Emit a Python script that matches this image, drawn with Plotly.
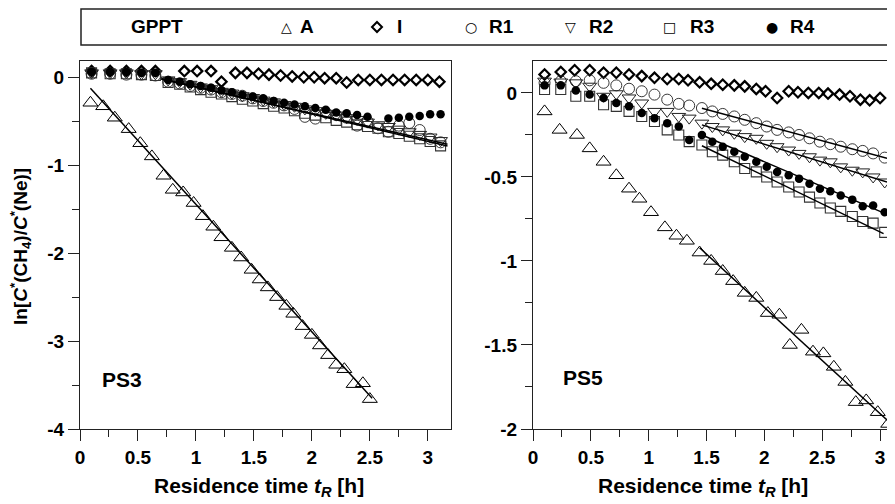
import plotly.graph_objects as go

# ---------------- PS3 (left panel) ----------------
t_A3 = [0.09, 0.20, 0.30, 0.42, 0.52, 0.62, 0.72, 0.80, 0.89, 0.98, 1.06, 1.15, 1.22, 1.31, 1.39,
        1.48, 1.55, 1.62, 1.70, 1.78, 1.84, 1.92, 2.00, 2.07, 2.14, 2.21, 2.28, 2.36, 2.44, 2.50]
A3 = [-0.29, -0.33, -0.46, -0.59, -0.75, -0.90, -1.12, -1.28, -1.31, -1.43, -1.58, -1.70, -1.82, -1.94, -2.05,
      -2.19, -2.30, -2.39, -2.50, -2.60, -2.69, -2.83, -2.93, -3.05, -3.16, -3.27, -3.32, -3.49, -3.48, -3.66]

t_I3 = [0.10, 0.26, 0.40, 0.53, 0.65, 0.90, 1.01, 1.13, 1.22, 1.34, 1.44, 1.54, 1.63, 1.73,
        1.83, 1.93, 2.02, 2.11, 2.21, 2.30, 2.40, 2.50, 2.60, 2.70, 2.80, 2.90, 3.00, 3.10]
I3 = [0.07, 0.07, 0.07, 0.07, 0.07, 0.07, 0.07, 0.07, -0.05, 0.05, 0.05, 0.04, 0.03, 0.02,
      0.01, 0.00, 0.00, -0.01, -0.01, -0.06, -0.03, -0.03, -0.03, -0.03, -0.03, -0.03, -0.03, -0.05]

t_R3 = [0.10, 0.26, 0.40, 0.53, 0.65, 0.76, 0.86, 0.95, 1.04, 1.13, 1.22, 1.31, 1.40, 1.49, 1.58, 1.67,
        1.76, 1.85, 1.94, 2.03, 2.12, 2.21, 2.30, 2.39, 2.48, 2.57, 2.66, 2.75, 2.84, 2.93, 3.02, 3.11]
R1_3 = [0.04, 0.04, 0.03, 0.03, 0.02, -0.05, -0.07, -0.10, -0.12, -0.14, -0.17, -0.19, -0.21, -0.24, -0.27, -0.29,
        -0.32, -0.36, -0.45, -0.47, -0.40, -0.43, -0.46, -0.55, -0.50, -0.58, -0.62, -0.55, -0.52, -0.60, -0.70, -0.74]
R2_3 = [0.05, 0.05, 0.05, 0.04, 0.04, -0.03, -0.05, -0.08, -0.11, -0.13, -0.16, -0.18, -0.21, -0.23, -0.26, -0.28,
        -0.31, -0.33, -0.36, -0.38, -0.41, -0.43, -0.46, -0.48, -0.51, -0.54, -0.56, -0.59, -0.62, -0.65, -0.68, -0.72]
R3_3 = [0.05, 0.04, 0.04, 0.03, 0.02, -0.06, -0.08, -0.11, -0.14, -0.17, -0.19, -0.22, -0.25, -0.27, -0.30, -0.33,
        -0.35, -0.38, -0.41, -0.43, -0.46, -0.49, -0.51, -0.54, -0.56, -0.58, -0.62, -0.64, -0.67, -0.70, -0.73, -0.78]
R4_3 = [0.06, 0.06, 0.06, 0.05, 0.05, -0.03, -0.05, -0.08, -0.10, -0.12, -0.15, -0.17, -0.20, -0.22, -0.24, -0.27,
        -0.29, -0.31, -0.33, -0.35, -0.37, -0.40, -0.41, -0.43, -0.45, None, -0.47, -0.46, -0.45, -0.44, -0.42, -0.42]

# fitted lines: (slope, intercept, t start, t end)
fit3_A = (-1.45, 0.005, 0.09, 2.52)
fit3_R12 = (-0.30, 0.19, 0.70, 3.17)
fit3_R3 = (-0.31, 0.20, 0.70, 3.17)

# ---------------- PS5 (right panel) ----------------
t_A5 = [0.10, 0.23, 0.38, 0.49, 0.61, 0.72, 0.83, 0.92, 1.02, 1.14, 1.24, 1.33, 1.44, 1.54, 1.64,
        1.73, 1.83, 1.93, 2.03, 2.13, 2.22, 2.32, 2.42, 2.51, 2.60, 2.70, 2.79, 2.88, 2.98, 3.07]
A5 = [-0.11, -0.22, -0.25, -0.33, -0.41, -0.49, -0.57, -0.63, -0.71, -0.80, -0.85, -0.88, -0.95, -1.00, -1.06,
      -1.12, -1.19, -1.22, -1.31, -1.32, -1.50, -1.41, -1.54, -1.55, -1.63, -1.72, -1.84, -1.83, -1.90, -1.97]

t_I5 = [0.10, 0.24, 0.36, 0.49, 0.61, 0.72, 0.83, 0.94, 1.05, 1.16, 1.26, 1.34, 1.44, 1.54, 1.64,
        1.74, 1.83, 1.93, 2.01, 2.11, 2.21, 2.29, 2.38, 2.47, 2.55, 2.65, 2.74, 2.83, 2.91, 3.00]
I5 = [0.11, 0.125, 0.135, 0.135, 0.12, 0.12, 0.11, 0.10, 0.09, 0.083, 0.083, 0.075, 0.063, 0.054, 0.049,
      0.045, 0.039, 0.024, 0.01, -0.03, 0.01, 0.004, 0.0, 0.0, -0.004, -0.01, -0.02, -0.04, -0.044, -0.03]

t_R5 = [0.10, 0.24, 0.37, 0.49, 0.61, 0.72, 0.83, 0.94, 1.05, 1.16, 1.26, 1.35, 1.46, 1.55, 1.64,
        1.74, 1.83, 1.93, 2.02, 2.11, 2.21, 2.30, 2.39, 2.48, 2.57, 2.66, 2.76, 2.85, 2.94, 3.04]
R1_5 = [0.06, 0.07, 0.07, 0.075, 0.06, 0.045, 0.025, 0.01, -0.01, -0.04, -0.065, -0.075, -0.09, -0.11, -0.125,
        -0.14, -0.16, -0.18, -0.20, -0.22, -0.235, -0.25, -0.27, -0.29, -0.305, -0.32, -0.335, -0.345, -0.36, -0.385]
R2_5 = [0.07, 0.065, 0.06, 0.04, -0.02, -0.005, -0.03, -0.06, -0.11, -0.11, -0.14, -0.15, -0.18, -0.20, -0.22,
        -0.24, -0.26, -0.27, -0.30, -0.32, -0.34, -0.36, -0.38, -0.40, -0.41, -0.44, -0.46, -0.47, -0.50, -0.53]
R3_5 = [0.02, 0.02, -0.02, -0.02, -0.07, -0.08, -0.11, -0.14, -0.17, -0.22, -0.25, -0.29, -0.31, -0.35, -0.37,
        -0.41, -0.45, -0.47, -0.50, -0.53, -0.56, -0.59, -0.62, -0.655, -0.685, -0.705, -0.735, -0.765, -0.775, -0.83]
R4_5 = [0.045, 0.045, 0.015, -0.01, -0.03, -0.06, -0.08, -0.12, -0.15, -0.18, -0.20, -0.28, -0.25, -0.29, -0.32,
        -0.35, -0.38, -0.41, -0.44, -0.47, -0.49, -0.51, -0.54, -0.57, -0.585, -0.61, -0.635, -0.675, -0.67, -0.71]

fit5_A = (-0.633, -0.01, 1.44, 3.15)
fit5_R1 = (-0.186, 0.18, 1.46, 3.06)
fit5_R2 = (-0.2125, 0.12, 1.46, 3.06)
fit5_R3 = (-0.333, 0.172, 1.46, 3.03)
fit5_R4 = (-0.295, 0.18, 1.46, 3.02)

# tick labels (hyphen minus as in the original)
x_ticks = [0, 0.5, 1, 1.5, 2, 2.5, 3]
x_ticktext = ["0", "0.5", "1", "1.5", "2", "2.5", "3"]
y3_ticks = [0, -1, -2, -3, -4]
y3_ticktext = ["0", "-1", "-2", "-3", "-4"]
y5_ticks = [0, -0.5, -1, -1.5, -2]
y5_ticktext = ["0", "-0.5", "-1", "-1.5", "-2"]

legend_names = ["A", "I", "R1", "R2", "R3", "R4"]
legend_glyphs = ["\u25b3", "", "\u25cb", "\u25bd", "\u25a1", "\u25cf"]

FONT = "Liberation Sans, Arial, sans-serif"

# marker styles per series
styles = {
    "A": dict(symbol="triangle-up-open", size=13, color="black", line=dict(width=1, color="black")),
    "I": dict(symbol="diamond-open", size=8, color="black", line=dict(width=2.2, color="black")),
    "R1": dict(symbol="circle-open", size=11, color="#222", line=dict(width=0.9, color="#222")),
    "R2": dict(symbol="triangle-down-open", size=12, color="#222", line=dict(width=1, color="#222")),
    "R3": dict(symbol="square-open", size=10, color="#333", line=dict(width=1.1, color="#333")),
    "R4": dict(symbol="circle", size=8.5, color="black", line=dict(width=0, color="black")),
}

fig = go.Figure()


def add_points(x, y, name, xa, ya):
    fig.add_trace(go.Scatter(x=x, y=y, mode="markers", marker=styles[name], xaxis=xa, yaxis=ya,
                             showlegend=False, cliponaxis=False))


def add_fit(fit, xa, ya):
    slope, icpt, t0, t1 = fit
    fig.add_trace(go.Scatter(x=[t0, t1], y=[icpt + slope * t0, icpt + slope * t1], mode="lines",
                             line=dict(color="black", width=1.5), xaxis=xa, yaxis=ya, showlegend=False))


add_points(t_A3, A3, "A", "x", "y")
add_points(t_I3, I3, "I", "x", "y")
add_points(t_R3, R1_3, "R1", "x", "y")
add_points(t_R3, R2_3, "R2", "x", "y")
add_points(t_R3, R3_3, "R3", "x", "y")
add_points(t_R3, R4_3, "R4", "x", "y")
for f in (fit3_A, fit3_R12, fit3_R3):
    add_fit(f, "x", "y")

add_points(t_A5, A5, "A", "x2", "y2")
add_points(t_I5, I5, "I", "x2", "y2")
add_points(t_R5, R1_5, "R1", "x2", "y2")
add_points(t_R5, R2_5, "R2", "x2", "y2")
add_points(t_R5, R3_5, "R3", "x2", "y2")
add_points(t_R5, R4_5, "R4", "x2", "y2")
for f in (fit5_A, fit5_R1, fit5_R2, fit5_R3, fit5_R4):
    add_fit(f, "x2", "y2")

# page has an 8px body margin, so the figure is drawn 8px in from the corner
W, H = 887, 496
L, R, T, B = 72, 0, 53, 75
pw, ph = W - L - R, H - T - B


def px_x(px):
    # page pixel -> paper fraction
    return (px - 8 - L) / pw


def px_y(py):
    return (H - B - (py - 8)) / ph


tickfont = dict(family=FONT, size=19, color="black", weight="bold")
axis_common = dict(showline=True, linecolor="#222", linewidth=1.3, ticks="outside", ticklen=11,
                   tickwidth=1.3, tickcolor="#222", showgrid=False, zeroline=False, tickfont=tickfont,
                   automargin=False, tickmode="array")
minor_x = dict(dtick=0.25, tick0=0, ticklen=7, ticks="outside", tickcolor="#222", tickwidth=1.3)

fig.update_layout(
    width=W, height=H, template="none",
    paper_bgcolor="white", plot_bgcolor="white",
    margin=dict(l=L, r=R, t=T, b=B),
    xaxis=dict(domain=[0, px_x(451)], range=[0, 3.2], tickvals=x_ticks, ticktext=x_ticktext,
               mirror=True, anchor="y", minor=minor_x, **axis_common),
    yaxis=dict(domain=[0, 1], range=[-4, 0.185], tickvals=y3_ticks, ticktext=y3_ticktext,
               mirror=True, anchor="x",
               minor=dict(dtick=0.5, tick0=0, ticklen=7, ticks="outside", tickcolor="#222", tickwidth=1.3),
               **axis_common),
    xaxis2=dict(domain=[px_x(533), 1], range=[0, 3.129], tickvals=x_ticks, ticktext=x_ticktext,
                mirror=True, anchor="y2", minor=minor_x, **axis_common),
    yaxis2=dict(domain=[0, 1], range=[-2, 0.19], tickvals=y5_ticks, ticktext=y5_ticktext, anchor="x2",
                minor=dict(dtick=0.25, tick0=0, ticklen=7, ticks="outside", tickcolor="#222", tickwidth=1.3),
                **axis_common),
)

ann = []
# panel labels
ann.append(dict(text="<b>PS3</b>", x=0.362, y=-3.435, xref="x", yref="y", showarrow=False,
                font=dict(family=FONT, size=21, color="black")))
ann.append(dict(text="<b>PS5</b>", x=0.432, y=-1.695, xref="x2", yref="y2", showarrow=False,
                font=dict(family=FONT, size=21, color="black")))
# axis titles
xtitle = "<b>Residence time <i>t</i><sub><i>R</i></sub> [h]</b>"
for cx in (259, 703):
    ann.append(dict(text=xtitle, x=px_x(cx), y=px_y(487), xref="paper", yref="paper", showarrow=False,
                    xanchor="center", yanchor="middle", font=dict(family=FONT, size=21, color="black")))
ann.append(dict(text="<b>ln[<i>C</i><sup>*</sup>(CH<sub>4</sub>)/<i>C</i><sup>*</sup>(Ne)]</b>",
                x=px_x(20), y=px_y(247), xref="paper", yref="paper", showarrow=False, textangle=-90,
                xanchor="center", yanchor="middle", font=dict(family=FONT, size=19, color="black")))

# legend strip
ly = px_y(27)
ann.append(dict(text="<b>GPPT</b>", x=px_x(129), y=ly, xref="paper", yref="paper", showarrow=False,
                xanchor="left", yanchor="middle", font=dict(family=FONT, size=19, color="black")))
glyph_x = [286, 377, 471, 570, 669, 772]
label_x = [298, 395, 487, 587, 688, 788]
for g, n, gx, lx in zip(legend_glyphs, legend_names, glyph_x, label_x):
    if g:
        ann.append(dict(text=g, x=px_x(gx), y=ly, xref="paper", yref="paper", showarrow=False,
                        xanchor="center", yanchor="middle",
                        font=dict(family="DejaVu Sans", size=14, color="black")))
    else:
        # thick open diamond for "I"
        dx, dy = 5 / pw, 5 / ph
        cx, cy = px_x(gx), ly
        fig.add_shape(type="path", xref="paper", yref="paper",
                      path=f"M {cx},{cy + dy} L {cx + dx},{cy} L {cx},{cy - dy} L {cx - dx},{cy} Z",
                      line=dict(color="black", width=2))
    ann.append(dict(text="<b>" + n + "</b>", x=px_x(lx), y=ly, xref="paper", yref="paper", showarrow=False,
                    xanchor="left", yanchor="middle", font=dict(family=FONT, size=19, color="black")))

fig.update_layout(annotations=ann)
fig.add_shape(type="rect", xref="paper", yref="paper", x0=px_x(81), x1=px_x(905), y0=px_y(45), y1=px_y(9),
              line=dict(color="#222", width=1.5), fillcolor="rgba(0,0,0,0)")

fig.write_html("out.html")
